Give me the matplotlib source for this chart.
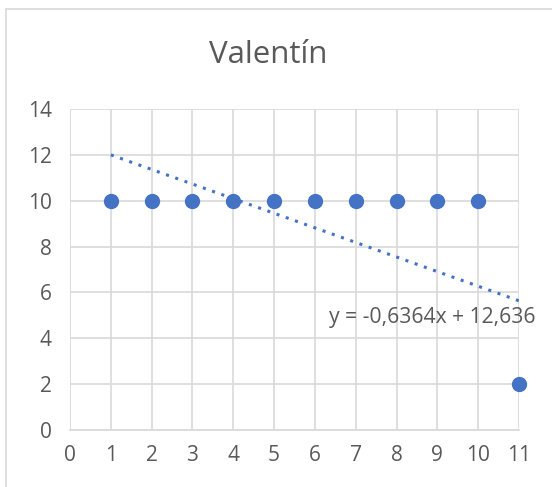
import matplotlib
matplotlib.use("Agg")
import matplotlib.pyplot as plt
import numpy as np
from matplotlib.patches import Rectangle

title = "Valentín"
x_vals = [1, 2, 3, 4, 5, 6, 7, 8, 9, 10, 11]
y_vals = [10, 10, 10, 10, 10, 10, 10, 10, 10, 10, 2]
slope = -0.6364
intercept = 12.636
equation = "y = -0,6364x + 12,636"
x_ticks = list(range(0, 12))
y_ticks = [0, 2, 4, 6, 8, 10, 12, 14]

W, H = 552, 487
fig = plt.figure(figsize=(W / 100, H / 100), dpi=100)
fig.patch.set_facecolor("white")

# outer chart border (cropped at right/bottom)
fig.patches.append(Rectangle((6 / W, 1 - 600 / H), 600 / W, (600 - 9) / H,
                             transform=fig.transFigure, fill=False,
                             edgecolor="#d9d9d9", linewidth=1.2))

left, right = 70, 519
top, bottom = 109, 430
ax = fig.add_axes([left / W, 1 - bottom / H, (right - left) / W, (bottom - top) / H])
ax.set_xlim(0, 11)
ax.set_ylim(0, 14)
ax.set_xticks(x_ticks)
ax.set_yticks(y_ticks)
ax.grid(True, color="#d9d9d9", linewidth=1.2)
ax.set_axisbelow(True)
for s in ax.spines.values():
    s.set_visible(False)
ax.spines["bottom"].set_visible(True)
ax.spines["bottom"].set_color("#d9d9d9")
ax.spines["bottom"].set_linewidth(1.2)
ax.tick_params(length=0, labelsize=15, labelcolor="#595959", pad=11)
ax.tick_params(axis="y", pad=13)
for lab in ax.get_xticklabels() + ax.get_yticklabels():
    lab.set_family("Open Sans")

tx = np.array([x_vals[0], x_vals[-1]], dtype=float)
ax.plot(tx, slope * tx + intercept, color="#4472C4", linewidth=2.2,
        linestyle=(0, (1, 2.2)), zorder=2)
ax.scatter(x_vals, y_vals, s=100, color="#4472C4", zorder=3, clip_on=False)

ax.text(432 / W, 1 - 317 / H, equation, transform=fig.transFigure,
        ha="center", va="center", fontsize=15.2, color="#595959", family="Open Sans")
fig.text(268 / W, 1 - 55 / H, title, ha="center", va="center",
         fontsize=22.5, color="#595959", family="Open Sans")

fig.savefig("out.png", dpi=100)
